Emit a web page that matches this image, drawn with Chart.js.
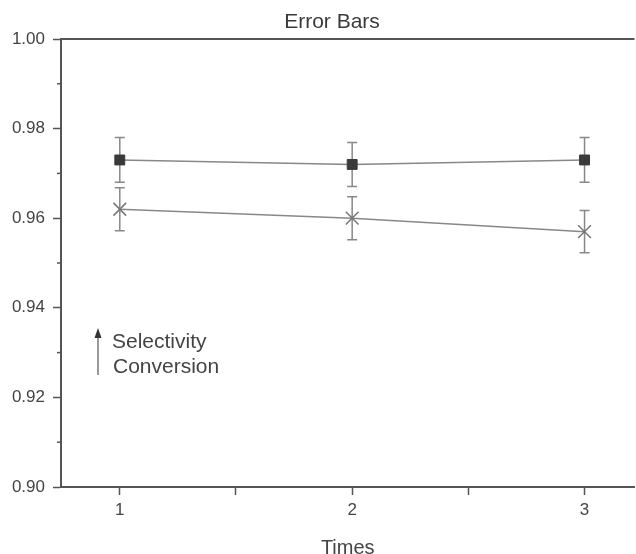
<!DOCTYPE html>
<html>
<head>
<meta charset="utf-8">
<script src="https://cdn.jsdelivr.net/npm/chart.js@4/dist/chart.umd.min.js"></script>
<style>
    html, body { margin: 0; padding: 0; background: #fff; overflow: hidden; }
</style>
</head>
<body>
<canvas id="chart" width="645" height="554"></canvas>
<script>
// data
const times = [1, 2, 3];
const selectivity = [0.973, 0.972, 0.973];
const selectivityErr = [0.005, 0.0049, 0.005];
const conversion = [0.962, 0.960, 0.957];
const conversionErr = [0.0048, 0.0048, 0.0047];

// axis ticks
const xTicks = [1, 1.5, 2, 2.5, 3];
const yTicks = [0.90, 0.92, 0.94, 0.96, 0.98, 1.00];
const yMinorTicks = [0.91, 0.93, 0.95, 0.97, 0.99];

const axisColor = "#555";
const textColor = "#444";
const fontFamily = "'Liberation Sans', Arial, sans-serif";

// vertical error bars with caps, drawn under the markers
const errorBars = {
    id: "errorBars",
    beforeDatasetsDraw(chart) {
        const ctx = chart.ctx;
        const x = chart.scales.x, y = chart.scales.y;
        ctx.save();
        ctx.strokeStyle = "#888";
        ctx.lineWidth = 1.5;
        chart.data.datasets.forEach(ds => {
            ds.data.forEach((p, i) => {
                const px = x.getPixelForValue(p.x);
                const top = y.getPixelForValue(p.y + ds.errors[i]);
                const bot = y.getPixelForValue(p.y - ds.errors[i]);
                ctx.beginPath();
                ctx.moveTo(px, top); ctx.lineTo(px, bot);
                ctx.moveTo(px - 5, top); ctx.lineTo(px + 5, top);
                ctx.moveTo(px - 5, bot); ctx.lineTo(px + 5, bot);
                ctx.stroke();
            });
        });
        ctx.restore();
    }
};

// top frame line, minor y ticks, title and the odd arrow legend
const decorations = {
    id: "decorations",
    afterDraw(chart) {
        const ctx = chart.ctx;
        const area = chart.chartArea;
        const y = chart.scales.y;
        ctx.save();
        ctx.strokeStyle = axisColor;
        ctx.lineWidth = 2;
        ctx.beginPath();
        ctx.moveTo(area.left - 1, area.top);
        ctx.lineTo(area.right, area.top);
        ctx.stroke();

        ctx.lineWidth = 1.5;
        yMinorTicks.forEach(v => {
            const py = y.getPixelForValue(v);
            ctx.beginPath();
            ctx.moveTo(area.left - 4, py);
            ctx.lineTo(area.left, py);
            ctx.stroke();
        });

        ctx.fillStyle = "#3a3a3a";
        ctx.font = "21px " + fontFamily;
        ctx.textAlign = "center";
        ctx.textBaseline = "alphabetic";
        ctx.fillText("Error Bars", area.left + 271, 28);

        // legend: arrow with two labels
        const lx = area.left + 37, ly = area.top + 289;
        ctx.strokeStyle = "#777";
        ctx.lineWidth = 1.5;
        ctx.beginPath();
        ctx.moveTo(lx, ly + 47);
        ctx.lineTo(lx, ly + 8);
        ctx.stroke();
        ctx.fillStyle = "#333";
        ctx.beginPath();
        ctx.moveTo(lx, ly);
        ctx.lineTo(lx - 3.5, ly + 10);
        ctx.lineTo(lx + 3.5, ly + 10);
        ctx.closePath();
        ctx.fill();

        ctx.fillStyle = textColor;
        ctx.font = "21px " + fontFamily;
        ctx.textAlign = "left";
        ctx.fillText("Selectivity", lx + 14, ly + 20);
        ctx.fillText("Conversion", lx + 15, ly + 45);
        ctx.restore();
    }
};

new Chart(document.getElementById("chart"), {
    type: "line",
    data: {
        datasets: [
            {
                label: "Selectivity",
                data: times.map((t, i) => ({ x: t, y: selectivity[i] })),
                errors: selectivityErr,
                borderColor: "#888",
                borderWidth: 1.5,
                pointStyle: "rect",
                pointRadius: 7,
                pointBackgroundColor: "#3a3a3a",
                pointBorderColor: "#3a3a3a",
                pointBorderWidth: 1
            },
            {
                label: "Conversion",
                data: times.map((t, i) => ({ x: t, y: conversion[i] })),
                errors: conversionErr,
                borderColor: "#888",
                borderWidth: 1.5,
                pointStyle: "crossRot",
                pointRadius: 9,
                pointBorderColor: "#777",
                pointBorderWidth: 1.5
            }
        ]
    },
    options: {
        responsive: false,
        animation: false,
        layout: { padding: { top: 39, right: 0, left: 0, bottom: 0 } },
        plugins: {
            legend: { display: false },
            tooltip: { enabled: false }
        },
        scales: {
            x: {
                type: "linear",
                min: 0.747,
                max: 3.215,
                afterBuildTicks: scale => { scale.ticks = xTicks.map(v => ({ value: v })); },
                afterFit: scale => { scale.height = 67; },
                border: { color: axisColor, width: 2 },
                grid: { drawOnChartArea: false, tickLength: 8, tickColor: axisColor, tickWidth: 1.5 },
                ticks: {
                    autoSkip: false,
                    maxRotation: 0,
                    padding: 5,
                    color: textColor,
                    font: { family: fontFamily, size: 17 },
                    callback: v => Number.isInteger(v) ? String(v) : ""
                },
                title: {
                    display: true,
                    text: "Times",
                    color: textColor,
                    font: { family: fontFamily, size: 20, lineHeight: 1 },
                    padding: { top: 0, bottom: -4 }
                }
            },
            y: {
                min: 0.9,
                max: 1.0,
                afterBuildTicks: scale => { scale.ticks = yTicks.map(v => ({ value: v })); },
                afterFit: scale => { scale.width = 61; },
                border: { color: axisColor, width: 2 },
                grid: { drawOnChartArea: false, tickLength: 8, tickColor: axisColor, tickWidth: 1.5 },
                ticks: {
                    padding: 8,
                    color: textColor,
                    font: { family: fontFamily, size: 17 },
                    callback: v => v.toFixed(2)
                }
            }
        }
    },
    plugins: [errorBars, decorations]
});
</script>
</body>
</html>
